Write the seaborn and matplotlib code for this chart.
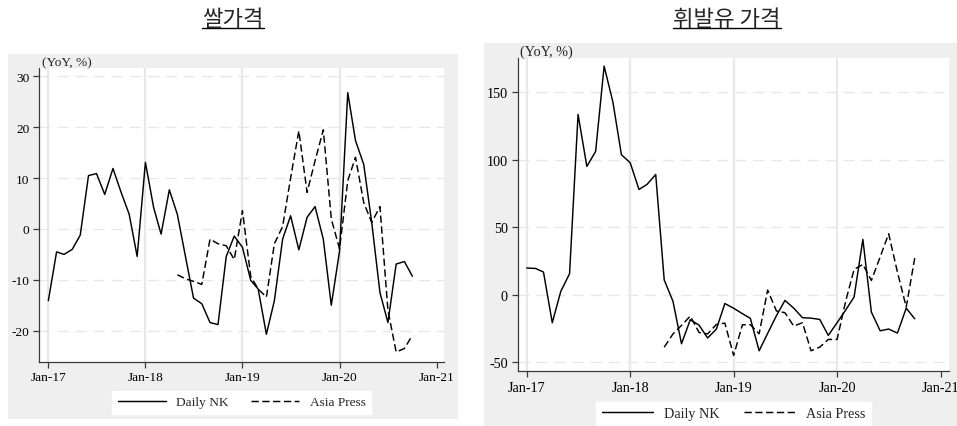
import pandas as pd
import matplotlib
matplotlib.use("Agg")
import matplotlib.pyplot as plt
import matplotlib.dates as mdates
from matplotlib.patches import Rectangle
from matplotlib.lines import Line2D
import seaborn as sns

# ---- data: year-on-year change (%) of market prices in North Korea ----
months = pd.date_range("2017-01-01", "2020-10-01", freq="MS")
ap_months = pd.date_range("2018-05-01", "2020-10-01", freq="MS")

rice_dailynk = [
    -14.1, -4.5, -5.0, -4.0, -1.2, 10.5, 10.9, 6.8, 11.9, 7.3, 2.9, -5.4,
    13.1, 4.2, -1.0, 7.7, 2.9, -5.5, -13.6, -14.7, -18.4, -18.8, -5.4, -1.4,
    -3.6, -10.1, -11.8, -20.7, -14.1, -2.0, 2.6, -4.1, 2.3, 4.4, -2.0, -15.0,
    -4.4, 26.8, 17.4, 12.7, 1.3, -12.5, -18.4, -6.9, -6.4, -9.3,
]
rice_asiapress = [
    -9.0, -9.8, -10.3, -10.9, -2.0, -2.9, -3.3, -6.0,
    3.6, -9.3, -11.8, -13.4, -2.9, 0.5, 10.0, 19.3, 7.2, 13.4, 19.5, 2.0,
    -3.9, 9.5, 14.1, 5.2, 1.3, 4.4, -16.0, -24.2, -23.5, -20.9,
]
fuel_dailynk = [
    19.8, 19.5, 16.8, -20.7, 2.5, 15.6, 133.6, 95.1, 106.2, 169.4, 142.7, 103.7,
    97.8, 78.0, 81.7, 89.1, 11.0, -4.9, -36.3, -18.5, -22.5, -32.0, -25.5, -6.5,
    -10.0, -14.0, -17.5, -41.5, -28.6, -15.5, -4.2, -9.9, -17.0, -17.3, -18.3, -30.1,
    -20.7, -11.1, -1.7, 41.0, -12.8, -26.7, -25.4, -28.4, -9.9, -17.8,
]
fuel_asiapress = [
    -38.8, -29.0, -22.7, -15.8, -28.0, -29.0, -22.0, -21.0,
    -45.0, -22.2, -22.2, -28.9, 3.5, -12.0, -13.3, -23.2, -20.7, -41.5, -38.8, -33.1,
    -33.1, -4.2, 18.8, 22.5, 10.6, 28.0, 45.2, 16.8, -9.1, 27.2,
]

series_names = ["Daily NK", "Asia Press"]
panel_titles = ["쌀가격", "휘발유 가격"]
unit_label = "(YoY, %)"
year_ticks = pd.date_range("2017-01-01", "2021-01-01", freq="YS")
rice_yticks = [-20, -10, 0, 10, 20, 30]
fuel_yticks = [-50, 0, 50, 100, 150]


def long_frame(nk, ap):
    a = pd.DataFrame({"month": months, "yoy": nk, "source": series_names[0]})
    b = pd.DataFrame({"month": ap_months, "yoy": ap, "source": series_names[1]})
    return pd.concat([a, b], ignore_index=True)


sns.set_theme(style="white")
plt.rcParams["font.family"] = ["Liberation Serif", "DejaVu Serif"]
plt.rcParams["axes.unicode_minus"] = False

W, H = 957, 427
fig = plt.figure(figsize=(W / 100, H / 100), dpi=100)
fig.patch.set_facecolor("white")


def fx(px):
    return px / W


def fy(py):
    return 1 - py / H


PANEL_GRAY = "#efefef"
GRID = "#e8e8e8"
SPINE = "#3a3a3a"

panels = [
    dict(bg=(8, 55, 458, 420), ax=(39.3, 69.3, 444.3, 362.7),
         ylim=(-26.1, 31.6), yticks=rice_yticks, pad=(34, 28),
         data=long_frame(rice_dailynk, rice_asiapress), fs=9.6,
         title_x=233, legend_top=391.7, unit_dx=0.007),
    dict(bg=(484, 44, 957, 427), ax=(517.7, 59.0, 949.3, 372.3),
         ylim=(-56.7, 175.4), yticks=fuel_yticks, pad=(32, 30),
         data=long_frame(fuel_dailynk, fuel_asiapress), fs=10.2,
         title_x=727, legend_top=402.7, unit_dx=0.005),
]

titles = []
for i, p in enumerate(panels):
    x0, y0, x1, y1 = p["bg"]
    fig.patches.append(Rectangle((fx(x0), fy(y1)), (x1 - x0) / W, (y1 - y0) / H,
                                 transform=fig.transFigure, facecolor=PANEL_GRAY,
                                 edgecolor="none", zorder=-5))
    l, t, r, b = p["ax"]
    ax = fig.add_axes([fx(l), fy(b), (r - l) / W, (b - t) / H])
    ax.set_facecolor("white")

    sns.lineplot(data=p["data"], x="month", y="yoy", hue="source", style="source",
                 palette={n: "black" for n in series_names},
                 dashes={series_names[0]: "", series_names[1]: (5, 2.4)},
                 hue_order=series_names, style_order=series_names,
                 linewidth=1.05, errorbar=None, legend=False, ax=ax)
    handles = list(ax.lines[:2])

    ax.set_xlim(year_ticks[0] - pd.Timedelta(days=p["pad"][0]),
                year_ticks[-1] + pd.Timedelta(days=p["pad"][1]))
    ax.set_xticks(year_ticks)
    ax.xaxis.set_major_formatter(mdates.DateFormatter("%b-%y"))
    ax.set_ylim(*p["ylim"])
    ax.set_yticks(p["yticks"])
    ax.set_xlabel("")
    ax.set_ylabel("")

    ax.set_axisbelow(True)
    ax.grid(axis="y", color=GRID, linestyle=(0, (8, 5)), linewidth=1.0)
    for yr in year_ticks[:-1]:
        ax.axvline(yr, color=GRID, linewidth=1.6, zorder=0.5)

    for s in ("top", "right"):
        ax.spines[s].set_visible(False)
    for s in ("left", "bottom"):
        ax.spines[s].set_color(SPINE)
        ax.spines[s].set_linewidth(0.9)
    ax.tick_params(axis="both", direction="out", length=4, width=0.9,
                   color=SPINE, labelsize=p["fs"], pad=3, labelcolor="black",
                   bottom=True, left=True)

    ax.text(p["unit_dx"], 1.0, unit_label, transform=ax.transAxes,
            ha="left", va="bottom", fontsize=p["fs"])

    leg = ax.legend(handles, series_names, loc="upper center",
                    bbox_to_anchor=(fx((l + r) / 2), fy(p["legend_top"])),
                    bbox_transform=fig.transFigure, ncol=2, frameon=True,
                    fancybox=False, facecolor="white", edgecolor="white",
                    framealpha=1, fontsize=p["fs"], handlelength=3.6,
                    handletextpad=0.8, columnspacing=1.7, borderpad=0.4,
                    borderaxespad=0)

    ttl = fig.text(fx(p["title_x"]), fy(20), panel_titles[i], ha="center",
                   va="center", fontsize=16,
                   family=["Noto Sans CJK KR", "DejaVu Sans"])
    titles.append(ttl)

# underline the panel titles
fig.canvas.draw()
renderer = fig.canvas.get_renderer()
for ttl in titles:
    bb = ttl.get_window_extent(renderer)
    yline = (bb.y0 + 3) / H
    fig.add_artist(Line2D([bb.x0 / W, bb.x1 / W], [yline, yline],
                          transform=fig.transFigure, color="black", linewidth=1.0))

fig.savefig("out.png", dpi=100, facecolor="white")
